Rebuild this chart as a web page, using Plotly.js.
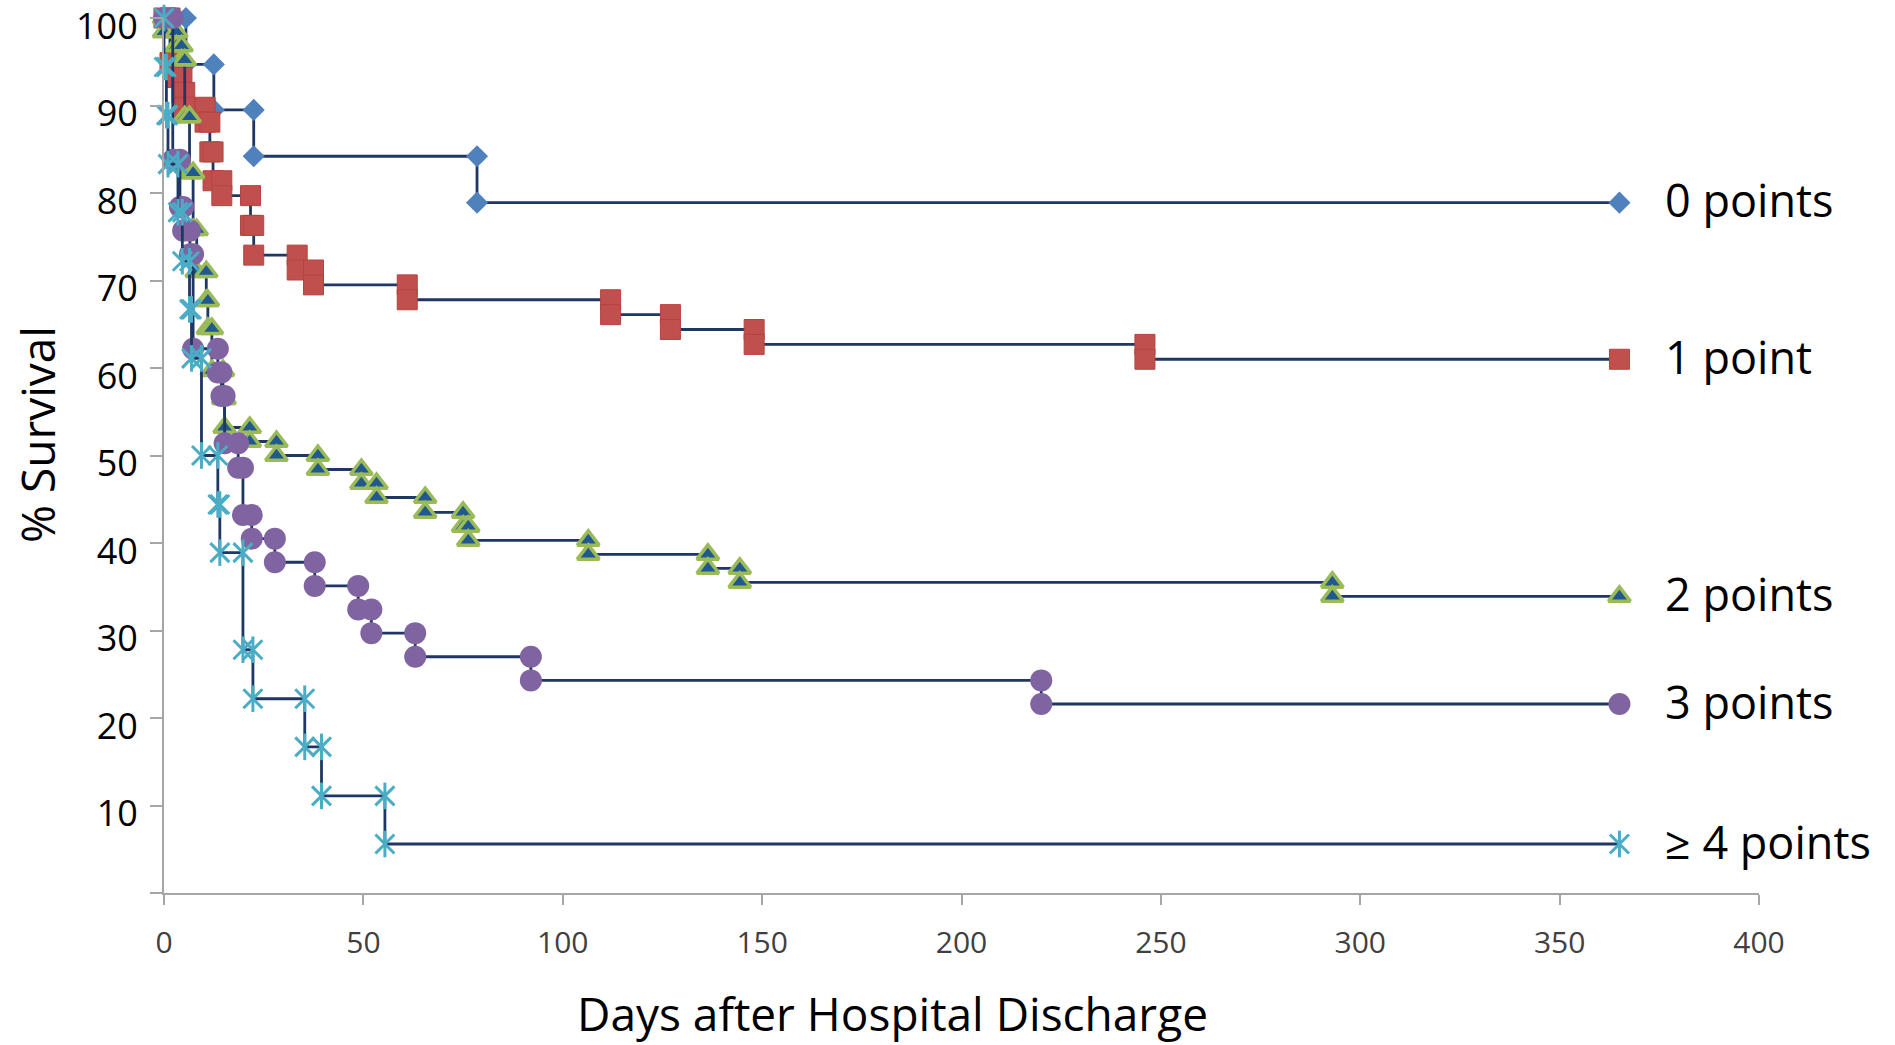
<!DOCTYPE html>
<html>
<head>
<meta charset="utf-8">
<script src="https://cdn.plot.ly/plotly-3.0.1.min.js"></script>
<style>
  html, body { margin: 0; padding: 0; background: #ffffff; }
  #chart { width: 1895px; height: 1045px; }
</style>
</head>
<body>
<div id="chart"></div>
<script>
// Kaplan-Meier curves by risk score. Every event is stored as two corners:
// (day, survival before) and (day, survival after), so straight segments form the steps.
const groupNames = ['0 points', '1 point', '2 points', '3 points', '\u2265 4 points'];

const days0 = [0, 5.5, 5.5, 12.5, 12.5, 22.5, 22.5, 78.5, 78.5, 365];
const surv0 = [100, 100, 94.7, 94.7, 89.5, 89.5, 84.2, 84.2, 78.9, 78.9];

const days1 = [0, 1.5, 1.5, 3.2, 3.2, 4.5, 4.5, 5.2, 5.2, 10.3, 10.3, 11.5, 11.5, 12.3, 12.3, 14.5, 14.5,
               21.7, 21.7, 22.5, 22.5, 33.4, 33.4, 37.5, 37.5, 61, 61, 112, 112, 127, 127, 148, 148, 246, 246, 365];
const surv1 = [100, 100, 94.9, 94.9, 93.2, 93.2, 91.5, 91.5, 89.8, 89.8, 88.1, 88.1, 84.7, 84.7, 81.4, 81.4, 79.7,
               79.7, 76.3, 76.3, 72.9, 72.9, 71.2, 71.2, 69.5, 69.5, 67.8, 67.8, 66.1, 66.1, 64.4, 64.4, 62.7, 62.7, 61.0, 61.0];

const days2 = [0, 0, 3.1, 3.1, 4.4, 4.4, 5.2, 5.2, 6.4, 6.4, 7.3, 7.3, 8.2, 8.2, 10.6, 10.6, 11, 11, 12, 12,
               14.8, 14.8, 15.2, 15.2, 21.5, 21.5, 28.2, 28.2, 38.6, 38.6, 49.5, 49.5, 53.3, 53.3, 65.5, 65.5,
               75, 75, 76.3, 76.3, 106.4, 106.4, 136.4, 136.4, 144.4, 144.4, 293, 293, 365];
const surv2 = [100, 98.4, 98.4, 96.8, 96.8, 95.2, 95.2, 88.7, 88.7, 82.3, 82.3, 75.8, 75.8, 71.0, 71.0, 67.7, 67.7, 64.5, 64.5, 59.7,
               59.7, 56.5, 56.5, 53.2, 53.2, 51.6, 51.6, 50.0, 50.0, 48.4, 48.4, 46.8, 46.8, 45.2, 45.2, 43.5,
               43.5, 41.9, 41.9, 40.3, 40.3, 38.7, 38.7, 37.1, 37.1, 35.5, 35.5, 33.9, 33.9];

const days3 = [0, 2.2, 2.2, 4, 4, 4.8, 4.8, 6.5, 6.5, 7.3, 7.3, 13.5, 13.5, 14.4, 14.4, 15.2, 15.2, 18.6, 18.6,
               19.8, 19.8, 22, 22, 27.8, 27.8, 37.8, 37.8, 48.7, 48.7, 52, 52, 63, 63, 92, 92, 220, 220, 365];
const surv3 = [100, 100, 83.8, 83.8, 78.4, 78.4, 75.7, 75.7, 73.0, 73.0, 62.2, 62.2, 59.5, 59.5, 56.8, 56.8, 51.4, 51.4, 48.6,
               48.6, 43.2, 43.2, 40.5, 40.5, 37.8, 37.8, 35.1, 35.1, 32.4, 32.4, 29.7, 29.7, 27.0, 27.0, 24.3, 24.3, 21.6, 21.6];

const days4 = [0, 0, 0.6, 0.6, 1, 1, 3.5, 3.5, 4.6, 4.6, 6.4, 6.4, 6.9, 6.9, 9.4, 9.4, 13.5, 13.5, 14, 14,
               19.8, 19.8, 22.3, 22.3, 35.3, 35.3, 39.5, 39.5, 55.4, 55.4, 365];
const surv4 = [100, 94.4, 94.4, 88.9, 88.9, 83.3, 83.3, 77.8, 77.8, 72.2, 72.2, 66.7, 66.7, 61.1, 61.1, 50.0, 50.0, 44.4, 44.4, 38.9,
               38.9, 27.8, 27.8, 22.2, 22.2, 16.7, 16.7, 11.1, 11.1, 5.6, 5.6];

const xTicks = [0, 50, 100, 150, 200, 250, 300, 350, 400];
const yTicks = [0, 10, 20, 30, 40, 50, 60, 70, 80, 90, 100];
const yTickText = ['', '10', '20', '30', '40', '50', '60', '70', '80', '90', '100'];

const STEP_LINE = { color: '#1F3763', width: 2.8 };

const markerStyles = [
  { symbol: 'diamond', size: 17, color: '#4F81BD', line: { width: 0 } },
  { symbol: 'square', size: 20, color: '#C0504D', line: { width: 1, color: '#B5433F' } },
  { symbol: 'triangle-up', size: 19, color: '#21598F', line: { width: 3.5, color: '#9BBB59' } },
  { symbol: 'circle', size: 22, color: '#8064A2', line: { width: 0 } },
  { symbol: 'x-thin-open', size: 19, color: '#4BACC6', line: { width: 3, color: '#4BACC6' } }
];

const series = [[days0, surv0], [days1, surv1], [days2, surv2], [days3, surv3], [days4, surv4]];

const traces = series.map(([x, y], i) => ({
  type: 'scatter',
  mode: 'lines+markers',
  x: x, y: y,
  name: groupNames[i],
  line: STEP_LINE,
  marker: markerStyles[i],
  cliponaxis: false,
  showlegend: false,
  hoverinfo: 'x+y+name'
}));

// vertical stroke completes the six-armed star marker of the highest-risk group
traces.push({
  type: 'scatter',
  mode: 'markers',
  x: days4, y: surv4,
  name: groupNames[4],
  marker: { symbol: 'line-ns-open', size: 19, color: '#4BACC6', line: { width: 3, color: '#4BACC6' } },
  cliponaxis: false,
  showlegend: false,
  hoverinfo: 'skip'
});

// plot area in pixels
const L = 164, R = 1759, T = 18, B = 893;
const px = v => (v - L) / (R - L);
const py = v => (B - v) / (B - T);

const FONT = 'Open Sans, Noto Sans, sans-serif';

const annotations = series.map(([x, y], i) => ({
  x: x[x.length - 1], y: y[y.length - 1],
  xref: 'x', yref: 'y',
  text: groupNames[i],
  showarrow: false,
  xanchor: 'left', yanchor: 'middle',
  xshift: 44, yshift: 3,
  font: { family: FONT, size: 45, color: '#000000' }
}));

annotations.push({
  xref: 'paper', yref: 'paper',
  x: px(892), y: py(1013),
  text: 'Days after Hospital Discharge',
  showarrow: false, xanchor: 'center', yanchor: 'middle',
  font: { family: FONT, size: 46, color: '#000000' }
});
annotations.push({
  xref: 'paper', yref: 'paper',
  x: px(37), y: py(435),
  text: '% Survival',
  textangle: -90,
  showarrow: false, xanchor: 'center', yanchor: 'middle',
  font: { family: FONT, size: 46, color: '#000000' }
});

const axisGray = '#A6A6A6';

const layout = {
  width: 1895, height: 1045,
  margin: { l: L, r: 1895 - R, t: T, b: 1045 - B, pad: 0 },
  paper_bgcolor: '#ffffff', plot_bgcolor: '#ffffff',
  showlegend: false,
  xaxis: {
    range: [0, 400], tickvals: xTicks,
    ticks: 'outside', ticklen: 10, tickwidth: 2, tickcolor: axisGray,
    showline: true, linecolor: axisGray, linewidth: 2,
    showgrid: false, zeroline: false,
    tickfont: { family: FONT, size: 30, color: '#404040' },
    ticklabelstandoff: 12
  },
  yaxis: {
    range: [0, 100], tickvals: yTicks, ticktext: yTickText,
    ticks: 'outside', ticklen: 12, tickwidth: 2, tickcolor: axisGray,
    showline: true, linecolor: axisGray, linewidth: 2,
    showgrid: false, zeroline: false,
    tickfont: { family: FONT, size: 36, color: '#000000' },
    ticklabelstandoff: 5,
    ticklabelshift: 8,
    ticklabeloverflow: 'allow'
  },
  annotations: annotations
};

Plotly.newPlot('chart', traces, layout, { displayModeBar: false, staticPlot: true });
</script>
</body>
</html>
